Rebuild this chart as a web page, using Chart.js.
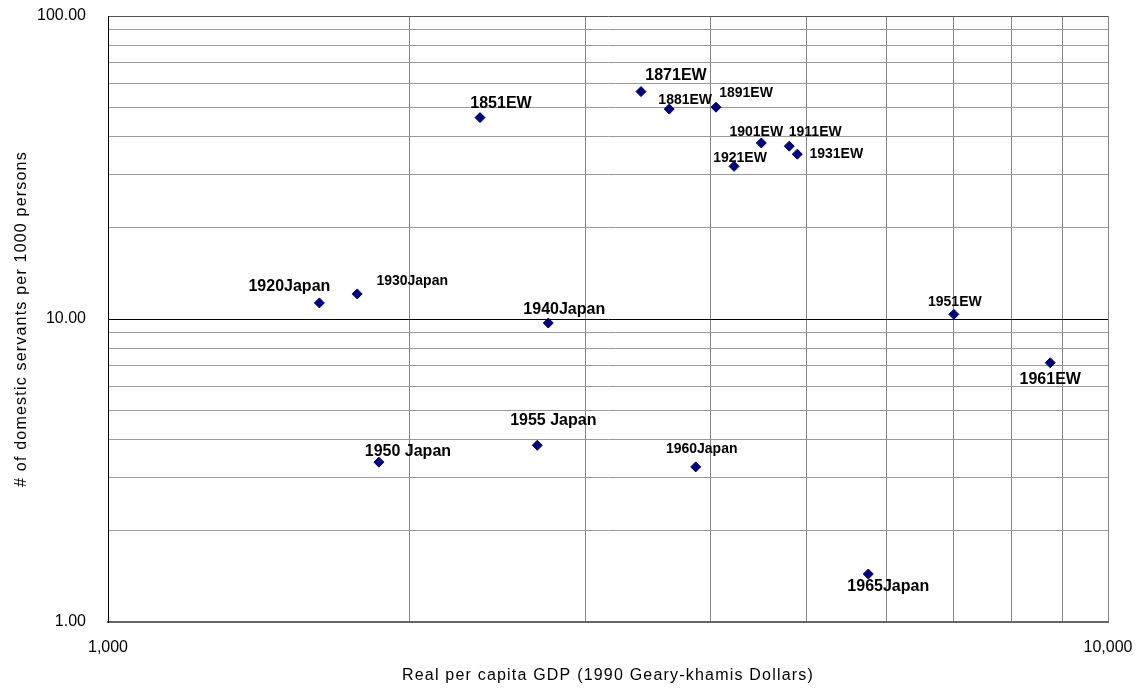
<!DOCTYPE html>
<html>
<head>
<meta charset="utf-8">
<title>Domestic servants vs. real per capita GDP</title>
<script src="https://cdn.jsdelivr.net/npm/chart.js@4.4.1/dist/chart.umd.min.js"></script>
<style>
  html, body { margin: 0; padding: 0; background: #ffffff; }
  #wrap { width: 1140px; height: 689px; }
  canvas { display: block; }
</style>
</head>
<body>
<div id="wrap"><canvas id="chart" width="1140" height="689"></canvas></div>
<script>
// Observations: England & Wales (EW) census years and Japan
const pointNames = [
  '1851EW', '1871EW', '1881EW', '1891EW', '1901EW', '1911EW', '1921EW', '1931EW',
  '1951EW', '1961EW',
  '1920Japan', '1930Japan', '1940Japan', '1950 Japan', '1955 Japan', '1960Japan', '1965Japan'
];
// Real per capita GDP, 1990 Geary-Khamis dollars
const gdpPerCapita = [
  2355, 3412, 3641, 4055, 4501, 4800, 4227, 4890,
  7012, 8755,
  1627, 1775, 2756, 1866, 2687, 3870, 5758
];
// Domestic servants per 1000 persons
const servantsPer1000 = [
  46.2, 56.3, 49.3, 50.0, 38.1, 37.2, 31.9, 35.0,
  10.36, 7.17,
  11.3, 12.1, 9.70, 3.37, 3.83, 3.25, 1.44
];

// Gridline values on each log axis
const xGridValues = [1000, 2000, 3000, 4000, 5000, 6000, 7000, 8000, 9000, 10000];
const yGridValues = [1, 2, 3, 4, 5, 6, 7, 8, 9, 10, 20, 30, 40, 50, 60, 70, 80, 90, 100];

// Axis tick labels (only the decades are labelled)
const xTickValues = [1000, 10000];
const xTickLabels = ['1,000', '10,000'];
const yTickValues = [1, 10, 100];
const yTickLabels = ['1.00', '10.00', '100.00'];

const xAxisTitle = 'Real per capita GDP (1990 Geary-khamis Dollars)';
const yAxisTitle = '# of domestic servants per 1000 persons';

// Label placement: pixel nudge from each marker, and whether the label uses the larger type
const labelShiftX = [21, 35, 16, 30, -5, 26, 6, 39, 1, 0, -30, 55, 16, 29, 16, 6, 20];
const labelShiftY = [-14, -16, -9, -14, -11, -14, -8, 0, -12, 17, -16, -13, -13, -11, -25, -18, 13];
const labelLarge  = [true, true, false, false, false, false, false, false, false, true,
                     true, false, true, true, true, false, true];

const FONT = "'Liberation Sans', Arial, sans-serif";

function tickText(list, labels) {
  return function (value) {
    for (let i = 0; i < list.length; i++) {
      if (Math.abs(value - list[i]) < list[i] * 1e-6) return labels[i];
    }
    return '';
  };
}

const whiteBackground = {
  id: 'whiteBackground',
  beforeDraw(chart) {
    const ctx = chart.ctx;
    ctx.save();
    ctx.fillStyle = '#ffffff';
    ctx.fillRect(0, 0, chart.width, chart.height);
    ctx.restore();
  }
};

const axisTitles = {
  id: 'axisTitles',
  afterDraw(chart) {
    const ctx = chart.ctx;
    const a = chart.chartArea;
    ctx.save();
    ctx.fillStyle = '#000000';
    ctx.font = '16px ' + FONT;
    if ('letterSpacing' in ctx) ctx.letterSpacing = '1.2px';
    ctx.textAlign = 'center';
    ctx.textBaseline = 'middle';
    ctx.fillText(xAxisTitle, (a.left + a.right) / 2, 676);
    ctx.translate(22, (a.top + a.bottom) / 2);
    ctx.rotate(-Math.PI / 2);
    ctx.fillText(yAxisTitle, 0, 0);
    ctx.restore();
  }
};

const pointLabels = {
  id: 'pointLabels',
  afterDatasetsDraw(chart) {
    const ctx = chart.ctx;
    const meta = chart.getDatasetMeta(0);
    ctx.save();
    ctx.fillStyle = '#000000';
    ctx.textAlign = 'center';
    ctx.textBaseline = 'middle';
    meta.data.forEach((pt, i) => {
      ctx.font = 'bold ' + (labelLarge[i] ? 16 : 14) + 'px ' + FONT;
      ctx.fillText(pointNames[i], pt.x + labelShiftX[i], pt.y + labelShiftY[i]);
    });
    ctx.restore();
  }
};

new Chart(document.getElementById('chart'), {
  type: 'scatter',
  data: {
    datasets: [{
      data: gdpPerCapita.map((g, i) => ({ x: g, y: servantsPer1000[i] })),
      pointStyle: 'rectRot',
      pointRadius: 5,
      pointHoverRadius: 5,
      backgroundColor: '#000080',
      borderColor: '#000080',
      borderWidth: 1
    }]
  },
  options: {
    responsive: false,
    animation: false,
    devicePixelRatio: 1,
    layout: { padding: { top: 16, right: 32, left: 0, bottom: 0 } },
    plugins: {
      legend: { display: false },
      tooltip: { enabled: false }
    },
    scales: {
      x: {
        type: 'logarithmic',
        min: 1000,
        max: 10000,
        afterBuildTicks(scale) { scale.ticks = xGridValues.map(v => ({ value: v })); },
        afterFit(scale) {
          scale.height = 67;
          scale.paddingLeft = 0; scale.paddingRight = 0;
          scale.paddingTop = 0; scale.paddingBottom = 0;
        },
        grid: {
          color: '#858585',
          lineWidth: 1,
          drawTicks: false
        },
        border: { display: true, color: '#666666', width: 2 },
        ticks: {
          autoSkip: false,
          maxRotation: 0,
          padding: 16,
          color: '#000000',
          font: { family: FONT, size: 16 },
          callback: tickText(xTickValues, xTickLabels)
        }
      },
      y: {
        type: 'logarithmic',
        min: 1,
        max: 100,
        afterBuildTicks(scale) { scale.ticks = yGridValues.map(v => ({ value: v })); },
        afterFit(scale) {
          scale.width = 108;
          scale.paddingLeft = 0; scale.paddingRight = 0;
          scale.paddingTop = 0; scale.paddingBottom = 0;
        },
        grid: {
          color: (c) => {
            const v = c.tick ? c.tick.value : 0;
            if (Math.abs(v - 10) < 1e-6) return '#000000';
            if (Math.abs(v - 100) < 1e-6) return '#555555';
            return '#9a9a9a';
          },
          lineWidth: 1,
          drawTicks: false
        },
        border: { display: true, color: '#000000', width: 1 },
        ticks: {
          autoSkip: false,
          padding: 22,
          color: '#000000',
          font: { family: FONT, size: 16 },
          callback: tickText(yTickValues, yTickLabels)
        }
      }
    }
  },
  plugins: [whiteBackground, pointLabels, axisTitles]
});
</script>
</body>
</html>
